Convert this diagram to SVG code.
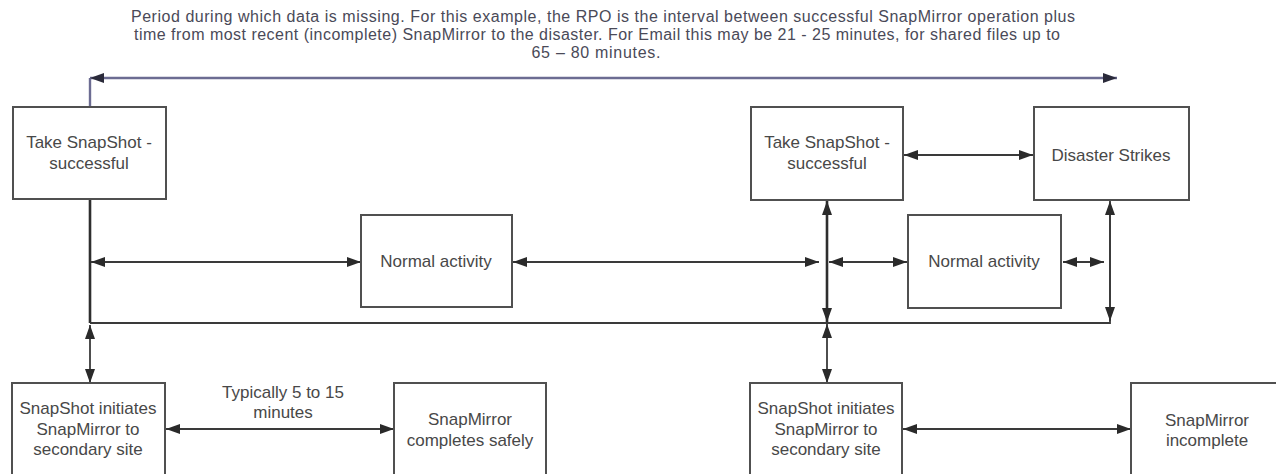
<svg xmlns="http://www.w3.org/2000/svg" width="1276" height="474" viewBox="0 0 1276 474">
<style>
.box{fill:#fff;stroke:#505050;stroke-width:2}
.t{font-family:"Liberation Sans",Arial,sans-serif;font-size:17px;fill:#484848;text-anchor:middle}
.title{font-family:"Liberation Sans",Arial,sans-serif;font-size:16px;fill:#4a4a58;text-anchor:middle}
.ln{fill:none;stroke:#3a3a3a;stroke-width:1.8}
.thick{fill:none;stroke:#2e2e2e;stroke-width:2.6}
.arr{marker-start:url(#ah);marker-end:url(#ah)}
.top{fill:none;stroke:#6c6c92;stroke-width:2.4}
</style>
<defs>
<marker id="ah" markerUnits="userSpaceOnUse" markerWidth="14" markerHeight="10" viewBox="0 0 14 10" refX="14" refY="5" orient="auto-start-reverse">
<path d="M0,0 L14,5 L0,10 z" fill="#2a2a2a"/>
</marker>
<marker id="ahp" markerUnits="userSpaceOnUse" markerWidth="14" markerHeight="10" viewBox="0 0 14 10" refX="14" refY="5" orient="auto-start-reverse">
<path d="M0,0 L14,5 L0,10 z" fill="#2a2a3a"/>
</marker>
</defs>
<g id="title">
<text class="title" x="603" y="22" textLength="944" lengthAdjust="spacing">Period during which data is missing. For this example, the RPO is the interval between successful SnapMirror operation plus</text>
<text class="title" x="597" y="40" textLength="926" lengthAdjust="spacing">time from most recent (incomplete) SnapMirror to the disaster. For Email this may be 21 - 25 minutes, for shared files up to</text>
<text class="title" x="596" y="58" textLength="129" lengthAdjust="spacing">65 – 80 minutes.</text>
</g>
<g id="connectors">
<path class="top" d="M90,107 V78"/>
<line class="top" x1="90" y1="78" x2="1117" y2="78" marker-start="url(#ahp)" marker-end="url(#ahp)"/>
<path class="thick" d="M90,199 V323"/>
<path class="ln" d="M90,323 H1110 V203"/>
<line class="ln arr" x1="90" y1="325" x2="90" y2="383"/>
<line class="ln arr" x1="91" y1="262" x2="361" y2="262"/>
<line class="ln arr" x1="513" y1="262" x2="819" y2="262"/>
<line class="ln arr" x1="829" y1="262" x2="907" y2="262"/>
<line class="ln arr" x1="1063" y1="262" x2="1104" y2="262"/>
<line class="thick arr" x1="827" y1="201" x2="827" y2="322"/>
<line class="ln arr" x1="827" y1="324" x2="827" y2="383"/>
<line class="ln arr" x1="1110" y1="201" x2="1110" y2="321"/>
<line class="ln arr" x1="904" y1="155" x2="1033" y2="155"/>
<line class="ln arr" x1="166" y1="429" x2="394" y2="429"/>
<line class="ln arr" x1="903" y1="429" x2="1131" y2="429"/>
<text class="t" x="283" y="398">Typically 5 to 15</text>
<text class="t" x="283" y="418">minutes</text>
</g>
<g id="snapshot1">
<rect class="box" x="13" y="107" width="153" height="92"/>
<text class="t" x="89" y="148">Take SnapShot -</text>
<text class="t" x="89" y="169">successful</text>
</g>
<g id="snapshot2">
<rect class="box" x="751" y="107" width="152" height="93"/>
<text class="t" x="827" y="148">Take SnapShot -</text>
<text class="t" x="827" y="169">successful</text>
</g>
<g id="disaster">
<rect class="box" x="1034" y="107" width="155" height="93"/>
<text class="t" x="1111" y="161">Disaster Strikes</text>
</g>
<g id="normal1">
<rect class="box" x="361" y="215" width="151" height="92"/>
<text class="t" x="436" y="267">Normal activity</text>
</g>
<g id="normal2">
<rect class="box" x="908" y="215" width="153" height="93"/>
<text class="t" x="984" y="267">Normal activity</text>
</g>
<g id="initiate1">
<rect class="box" x="12" y="383" width="153" height="96"/>
<text class="t" x="88" y="414">SnapShot initiates</text>
<text class="t" x="88" y="435">SnapMirror to</text>
<text class="t" x="88" y="455">secondary site</text>
</g>
<g id="complete">
<rect class="box" x="394" y="383" width="152" height="96"/>
<text class="t" x="470" y="425">SnapMirror</text>
<text class="t" x="470" y="446">completes safely</text>
</g>
<g id="initiate2">
<rect class="box" x="750" y="383" width="152" height="96"/>
<text class="t" x="826" y="414">SnapShot initiates</text>
<text class="t" x="826" y="435">SnapMirror to</text>
<text class="t" x="826" y="455">secondary site</text>
</g>
<g id="incomplete">
<rect class="box" x="1131" y="383" width="152" height="96"/>
<text class="t" x="1207" y="426">SnapMirror</text>
<text class="t" x="1207" y="446">incomplete</text>
</g>
</svg>
